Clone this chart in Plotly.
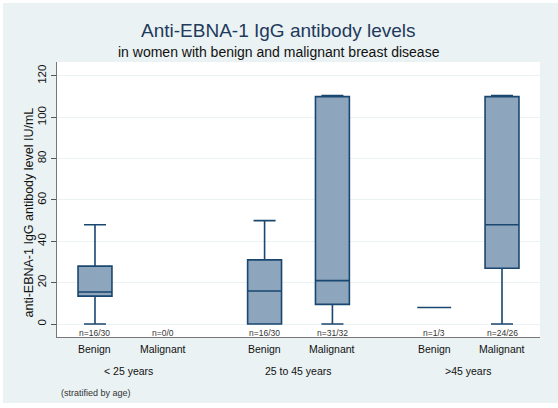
import plotly.graph_objects as go

# Data
categories = ["Benign", "Malignant", "Benign", "Malignant", "Benign", "Malignant"]
age_groups = ["< 25 years", "25 to 45 years", ">45 years"]
positions = [0, 1, 2.5, 3.5, 5, 6]
group_centers = [0.5, 3.0, 5.5]
n_labels = ["n=16/30", "n=0/0", "n=16/30", "n=31/32", "n=1/3", "n=24/26"]
lower = [0, None, 0, 0, 8, 0]
q1 = [13.5, None, 0, 9.5, 8, 27]
median = [15.5, None, 16, 21, 8, 48]
q3 = [28, None, 31, 110, 8, 110]
upper = [48, None, 50, 110.5, 8, 110.5]

BG = "#EAF2F3"
LINE = "#1A476F"
FILL = "#8DA5BD"
FONT = "Liberation Sans, Arial, sans-serif"

fig = go.Figure()
for i, p in enumerate(positions):
    if median[i] is None:
        continue
    fig.add_trace(go.Box(
        x=[p], q1=[q1[i]], median=[median[i]], q3=[q3[i]],
        lowerfence=[lower[i]], upperfence=[upper[i]],
        width=0.5, whiskerwidth=0.65,
        fillcolor=FILL, line=dict(color=LINE, width=1.6),
        boxpoints=False, showlegend=False, hoverinfo="skip",
    ))

annotations = []
for p, lab in zip(positions, n_labels):
    annotations.append(dict(x=p, y=0, xref="x", yref="paper", text=lab,
                            showarrow=False, yanchor="middle", yshift=4,
                            font=dict(size=8.5, color="#333333", family=FONT)))
for p, lab in zip(positions, categories):
    annotations.append(dict(x=p, y=0, xref="x", yref="paper", text=lab,
                            showarrow=False, yanchor="middle", yshift=-12,
                            font=dict(size=10.5, color="#111111", family=FONT)))
for c, lab in zip(group_centers, age_groups):
    annotations.append(dict(x=c, y=0, xref="x", yref="paper", text=lab,
                            showarrow=False, yanchor="middle", yshift=-34,
                            font=dict(size=10.5, color="#111111", family=FONT)))
annotations.append(dict(x=0, y=0, xref="paper", yref="paper", text="(stratified by age)",
                        showarrow=False, xanchor="left", yanchor="middle",
                        xshift=2, yshift=-56,
                        font=dict(size=9, color="#333333", family=FONT)))
annotations.append(dict(x=0.5, xref="paper", y=1, yref="paper", text="Anti-EBNA-1 IgG antibody levels",
                        showarrow=False, yanchor="middle", yshift=32, xshift=-20,
                        font=dict(size=19, color="#1E3A5C", family=FONT)))
annotations.append(dict(x=0.5, xref="paper", y=1, yref="paper",
                        text="in women with benign and malignant breast disease",
                        showarrow=False, yanchor="middle", yshift=10, xshift=-20,
                        font=dict(size=14, color="#111111", family=FONT)))
annotations.append(dict(x=0, xref="paper", y=0.5, yref="paper",
                        text="anti-EBNA-1 IgG antibody level IU/mL", textangle=-90,
                        showarrow=False, xanchor="center", yanchor="middle", xshift=-29, yshift=-13,
                        font=dict(size=12.5, color="#111111", family=FONT)))

fig.update_layout(
    width=558, height=408,
    margin=dict(l=57, r=18, t=62, b=71),
    paper_bgcolor="white",
    plot_bgcolor="white",
    font=dict(family=FONT, color="#111111"),
    annotations=annotations,
    shapes=[dict(type="rect", xref="paper", yref="paper", x0=-54 / 483, x1=515 / 483,
                 y0=-66 / 275, y1=1 + 59 / 275, fillcolor=BG, line=dict(width=0), layer="below"),
            dict(type="rect", xref="paper", yref="paper", x0=0, x1=1, y0=0, y1=1,
                 fillcolor="white", line=dict(width=0), layer="below")],
    xaxis=dict(range=[-0.56, 6.56], showticklabels=False, ticks="", showgrid=False,
               zeroline=False, showline=True, linecolor="#777777", linewidth=1),
    yaxis=dict(range=[-6.29, 126.75], tickvals=[0, 20, 40, 60, 80, 100, 120],
               tickangle=-90, ticks="outside", ticklen=5, tickcolor="#555555",
               tickfont=dict(size=11.5, color="#111111"),
               showgrid=True, gridcolor=BG, gridwidth=1, zeroline=False,
               showline=True, linecolor="#777777", linewidth=1),
)

fig.write_html("out.html", post_script="document.body.style.margin='0';",
               config={"displayModeBar": False})
